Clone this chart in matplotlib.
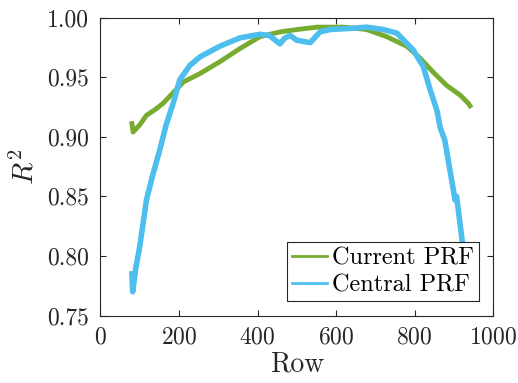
import numpy as np
import matplotlib
matplotlib.use('Agg')
import matplotlib.pyplot as plt
from matplotlib.ticker import FormatStrFormatter

# Values
rows_current = [80, 83, 100, 117, 140, 159, 194, 211, 253, 304, 355, 406, 457, 500,
                551, 620, 678, 729, 780, 814, 848, 882, 916, 937, 941]
r2_current = [0.911, 0.904, 0.910, 0.918, 0.923, 0.928, 0.940, 0.946, 0.953, 0.963,
              0.974, 0.984, 0.988, 0.990, 0.992, 0.992, 0.990, 0.984, 0.976, 0.966,
              0.954, 0.943, 0.935, 0.928, 0.926]

rows_central = [80, 82, 90, 100, 117, 134, 151, 168, 185, 202, 228, 253, 304, 355,
                406, 430, 457, 470, 483, 500, 534, 559, 585, 640, 678, 720, 755, 796,
                822, 840, 857, 865, 877, 890, 903, 907, 920, 922]
r2_central = [0.785, 0.770, 0.790, 0.808, 0.847, 0.869, 0.889, 0.911, 0.928, 0.948,
              0.960, 0.967, 0.976, 0.983, 0.986, 0.985, 0.978, 0.983, 0.985, 0.981,
              0.979, 0.988, 0.990, 0.991, 0.992, 0.990, 0.987, 0.973, 0.959, 0.939,
              0.922, 0.908, 0.897, 0.872, 0.847, 0.850, 0.816, 0.810]

plt.rcParams['font.family'] = 'serif'
plt.rcParams['font.serif'] = ['cmr10']
plt.rcParams['mathtext.fontset'] = 'cm'
plt.rcParams['axes.formatter.use_mathtext'] = True

fig = plt.figure(figsize=(5.18, 3.83), dpi=100)
ax = fig.add_axes([0.194, 0.176, 0.758, 0.778])

ax.plot(rows_current, r2_current, color='#77AC30', lw=3.5, label='Current PRF')
ax.plot(rows_central, r2_central, color='#4DBEEE', lw=4, label='Central PRF')

ax.set_xlim(0, 1000)
ax.set_ylim(0.75, 1.0)
ax.set_xticks([0, 200, 400, 600, 800, 1000])
ax.set_yticks([0.75, 0.80, 0.85, 0.90, 0.95, 1.00])
ax.yaxis.set_major_formatter(FormatStrFormatter('%.2f'))
ax.tick_params(direction='in', top=True, right=True, labelsize=17, length=4,
               color='#262626', labelcolor='#262626', pad=8)
for s in ax.spines.values():
    s.set_color('#262626')
    s.set_linewidth(0.8)

ax.set_xlabel('Row', fontsize=20, color='#262626', labelpad=2)
ax.set_ylabel('$R^2$', fontsize=21, color='#262626', labelpad=6)

leg = ax.legend(loc='lower right', fontsize=17.5, fancybox=False, framealpha=1,
                edgecolor='#262626', handlelength=1.45, handletextpad=0.2,
                borderpad=0.2, labelspacing=0.2, borderaxespad=0.6)
leg.get_frame().set_linewidth(0.8)
for ln in leg.get_lines():
    ln.set_linewidth(2)

fig.savefig('out.png', dpi=100)
